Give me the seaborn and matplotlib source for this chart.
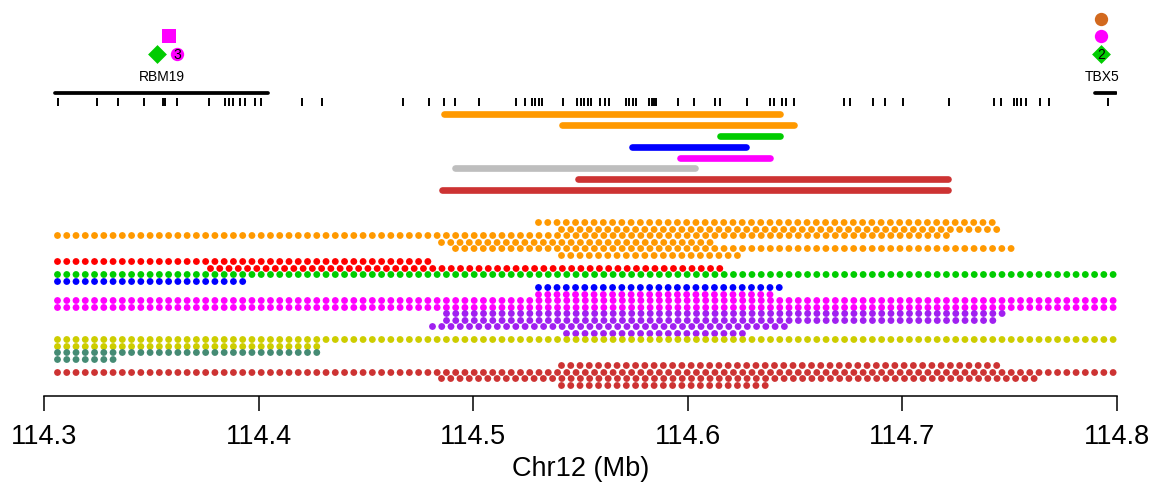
import matplotlib
matplotlib.use("Agg")
import matplotlib.pyplot as plt
import pandas as pd
import seaborn as sns

# ---------------- data (positions in Mb on Chr12) ----------------
gene_names = ["RBM19", "TBX5"]
gene_start = [114.3051, 114.7898]
gene_end = [114.4044, 114.7995]
gene_label_x = [114.3550, 114.7930]

# exon / feature positions shown as short ticks under the gene line
feature_pos = [
    114.3065, 114.3247, 114.3347, 114.3466, 114.3554, 114.3563, 114.3621,
    114.3767, 114.3844, 114.3860, 114.3883, 114.3915, 114.3935, 114.3983,
    114.4009, 114.4203, 114.4294, 114.4671, 114.4794, 114.4862, 114.4917,
    114.5027, 114.5198, 114.5240, 114.5273, 114.5289, 114.5305, 114.5321,
    114.5418, 114.5486, 114.5502, 114.5518, 114.5534, 114.5550, 114.5593,
    114.5612, 114.5631, 114.5712, 114.5728, 114.5745, 114.5760, 114.5819,
    114.5832, 114.5844, 114.5854, 114.5954, 114.6029, 114.6129, 114.6148,
    114.6274, 114.6382, 114.6401, 114.6437, 114.6459, 114.6495, 114.6729,
    114.6758, 114.6862, 114.6920, 114.7001, 114.7215, 114.7429, 114.7461,
    114.7520, 114.7536, 114.7552, 114.7578, 114.7640, 114.7685, 114.7958,
]

# interval bars (one per row, top to bottom)
interval_color = ["#FF9900", "#FF9900", "#00CC00", "#0000FF",
                  "#FF00FF", "#BEBEBE", "#CD3333", "#CD3333"]
interval_start = [114.4864, 114.5414, 114.6150, 114.5740,
                  114.5964, 114.4915, 114.5488, 114.4855]
interval_end = [114.6430, 114.6495, 114.6430, 114.6271,
                114.6383, 114.6033, 114.7212, 114.7212]

# dotted runs: stacking row, start, end, colour
dot_row = [0, 1, 2, 3, 4, 5,
           6, 7,
           8,
           9, 10,
           11, 12, 13,
           14, 15, 16, 17,
           18, 19,
           20, 21,
           22, 23, 24, 25]
dot_start = [114.5302, 114.5410, 114.3061, 114.4849, 114.4914, 114.5410,
             114.3061, 114.3772,
             114.3061,
             114.3061, 114.5302,
             114.5302, 114.3061, 114.3061,
             114.4871, 114.4871, 114.4806, 114.5432,
             114.3061, 114.3061,
             114.3061, 114.3061,
             114.5410, 114.3061, 114.4849, 114.5410]
dot_end = [114.7435, 114.7462, 114.7229, 114.6134, 114.7532, 114.6251,
           114.4806, 114.6167,
           114.8003,
           114.3944, 114.6442,
           114.6395, 114.8003, 114.8003,
           114.7472, 114.7430, 114.6456, 114.6256,
           114.8003, 114.4284,
           114.4284, 114.3339,
           114.7467, 114.8003, 114.7635, 114.6386]
dot_color = ["#FF9900"] * 6 + ["#FF0000"] * 2 + ["#00CC00"] + ["#0000FF"] * 2 \
    + ["#FF00FF"] * 3 + ["#A020F0"] * 4 + ["#CDCD00"] * 2 + ["#458B74"] * 2 \
    + ["#CD3333"] * 4

# symbols stacked above the genes
marker_x = [114.3582, 114.3527, 114.3621, 114.7925, 114.7925, 114.7925]
marker_level = [2, 1, 1, 3, 2, 1]
marker_shape = ["s", "D", "o", "o", "o", "D"]
marker_color = ["#FF00FF", "#00CC00", "#FF00FF", "#D2691E", "#FF00FF", "#00CC00"]
marker_text = ["", "", "3", "", "", "2"]

# ---------------- layout ----------------
W, H = 1160, 489
AX_L, AX_R, AX_B = 44, 1117, 397
GENE_Y = 93.5
FEAT_Y0, FEAT_Y1 = 98.5, 106.5
BAR_Y0, BAR_STEP = 115.3, 10.8
ROW0_Y, ROW_STEP = 223.3, 6.5
MARK_Y0, MARK_STEP = 72.0, 17.4
DOT_GAP_PT = 6.666

sns.set_style("white")
plt.rcParams["font.family"] = ["Liberation Sans", "DejaVu Sans"]
plt.rcParams["lines.scale_dashes"] = False
plt.rcParams["text.color"] = "black"
plt.rcParams["axes.labelcolor"] = "black"
plt.rcParams["xtick.color"] = "black"
plt.rcParams["xtick.labelcolor"] = "black"

fig = plt.figure(figsize=(W / 100, H / 100), dpi=100)
ax = fig.add_axes([AX_L / W, (H - AX_B) / H, (AX_R - AX_L) / W, AX_B / H])
ax.set_xlim(114.3, 114.8)
ax.set_ylim(AX_B, 0)

# gene lines and labels
for name, s, e, lx in zip(gene_names, gene_start, gene_end, gene_label_x):
    ax.plot([s, e], [GENE_Y, GENE_Y], color="black", lw=2.7,
            solid_capstyle="round")
    ax.text(lx, 77, name, ha="center", va="center", fontsize=10, color="black")

ax.vlines(feature_pos, FEAT_Y0, FEAT_Y1, color="black", lw=1.4)

# interval bars
for i, (c, s, e) in enumerate(zip(interval_color, interval_start, interval_end)):
    y = BAR_Y0 + BAR_STEP * i
    ax.plot([s, e], [y, y], color=c, lw=4.8, solid_capstyle="round")

# dotted runs
for r, s, e, c in zip(dot_row, dot_start, dot_end, dot_color):
    y = ROW0_Y + ROW_STEP * r
    ax.plot([s, e], [y, y], color=c, lw=5.0,
            linestyle=(0, (0.001, DOT_GAP_PT)),
            dash_capstyle="round", solid_capstyle="round")

# symbols above genes
mk = pd.DataFrame({"x": marker_x, "level": marker_level, "shape": marker_shape,
                   "color": marker_color, "text": marker_text})
mk["y"] = MARK_Y0 - MARK_STEP * mk["level"]
for (shape, color), grp in mk.groupby(["shape", "color"]):
    sns.scatterplot(data=grp, x="x", y="y", marker=shape, color=color,
                    s=92, linewidth=0, ax=ax, legend=False, zorder=3)
for _, row in mk[mk["text"] != ""].iterrows():
    ax.text(row["x"], row["y"] + 0.5, row["text"], ha="center", va="center",
            fontsize=10, color="black", zorder=4)

# axis styling
for side in ["left", "right", "top"]:
    ax.spines[side].set_visible(False)
ax.spines["bottom"].set_linewidth(1.1)
ax.spines["bottom"].set_color("black")
ax.set_yticks([])
ax.set_xticks([114.3, 114.4, 114.5, 114.6, 114.7, 114.8])
ax.set_xticklabels(["114.3", "114.4", "114.5", "114.6", "114.7", "114.8"])
ax.tick_params(axis="x", length=10.8, width=1.1, color="black", pad=9,
               labelsize=19.5, bottom=True, labelcolor="black")
ax.set_xlabel("Chr12 (Mb)", fontsize=19.5, labelpad=4, color="black")
ax.set_ylabel("")

fig.savefig("out.png", dpi=100)
